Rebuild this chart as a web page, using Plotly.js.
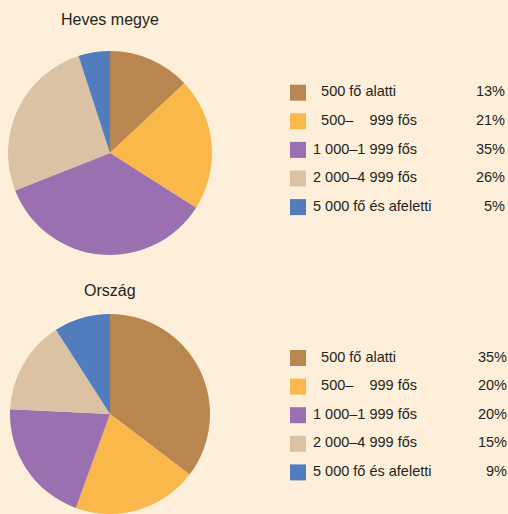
<!DOCTYPE html>
<html>
<head>
<meta charset="utf-8">
<script src="https://cdn.plot.ly/plotly-3.0.1.min.js"></script>
<style>
  html, body { margin: 0; padding: 0; background: #fdefd9; }
  #chart { width: 508px; height: 514px; }
</style>
</head>
<body>
<div id="chart"></div>
<script>
	"use strict";

	// category labels (figure spaces keep the digits lined up like in the print)
	var categories = [
		"\u2007500 fő alatti",
		"\u2007500–\u2007\u2007999 fős",
		"1 000–1 999 fős",
		"2 000–4 999 fős",
		"5 000 fő és afeletti"
	];
	var sliceColors = ["#b9864f", "#fbb84a", "#9a70b0", "#dbc2a4", "#517dbf"];

	var hevesValues = [13, 21, 35, 26, 5];
	var orszagValues = [35, 20, 20, 15, 9];

	var titles = ["Heves megye", "Ország"];

	var W = 508, H = 514;
	var fontFamily = "'Liberation Sans', Arial, sans-serif";
	var textColor = "#231f20";

	// pie geometry in pixels: centre x, centre y, radius
	var pies = [
		{ cx: 110, cy: 153, r: 102, values: hevesValues, legendTop: 92.7, titleY: 20, pctX: 505 },
		{ cx: 110, cy: 414, r: 100, values: orszagValues, legendTop: 358, titleY: 290, pctX: 507 }
	];

	function pct(v) { return v + "%"; }

	var data = [];
	var annotations = [];

	pies.forEach(function (p, k) {
		var x0 = (p.cx - p.r) / W, x1 = (p.cx + p.r) / W;
		var yTop = p.cy - p.r, yBot = p.cy + p.r;
		var d0 = Math.max(0, (H - yBot) / H), d1 = Math.min(1, (H - yTop) / H);
		data.push({
			type: "pie",
			values: p.values,
			labels: categories,
			sort: false,
			direction: "clockwise",
			rotation: 0,
			textinfo: "none",
			hoverinfo: "label+percent",
			showlegend: false,
			marker: { colors: sliceColors, line: { width: 0 } },
			domain: { x: [x0, x1], y: [d0, d1] }
		});

		var rowY = categories.map(function (c, i) { return p.legendTop + i * 28.6; });

		// legend squares
		data.push({
			type: "scatter", mode: "markers",
			x: categories.map(function () { return 298; }),
			y: rowY,
			marker: { symbol: "square", size: 16, color: sliceColors },
			hoverinfo: "skip", showlegend: false, cliponaxis: false
		});
		// legend labels
		data.push({
			type: "scatter", mode: "text",
			x: categories.map(function () { return 313; }),
			y: rowY,
			text: categories,
			textposition: "middle right",
			textfont: { family: fontFamily, size: 14.5, color: textColor },
			hoverinfo: "skip", showlegend: false, cliponaxis: false
		});
		// percentages
		data.push({
			type: "scatter", mode: "text",
			x: categories.map(function () { return p.pctX; }),
			y: rowY,
			text: p.values.map(pct),
			textposition: "middle left",
			textfont: { family: fontFamily, size: 14.5, color: textColor },
			hoverinfo: "skip", showlegend: false, cliponaxis: false
		});

		annotations.push({
			text: titles[k],
			xref: "paper", yref: "paper",
			x: p.cx / W, y: 1 - p.titleY / H,
			xanchor: "center", yanchor: "middle",
			showarrow: false,
			font: { family: fontFamily, size: 16, color: textColor }
		});
	});

	var layout = {
		width: W, height: H,
		margin: { l: 0, r: 0, t: 0, b: 0 },
		paper_bgcolor: "#fdefd9",
		plot_bgcolor: "rgba(0,0,0,0)",
		xaxis: { range: [0, W], visible: false, fixedrange: true },
		yaxis: { range: [H, 0], visible: false, fixedrange: true },
		annotations: annotations,
		showlegend: false
	};

	Plotly.newPlot("chart", data, layout, { displayModeBar: false, staticPlot: true });
</script>
</body>
</html>
